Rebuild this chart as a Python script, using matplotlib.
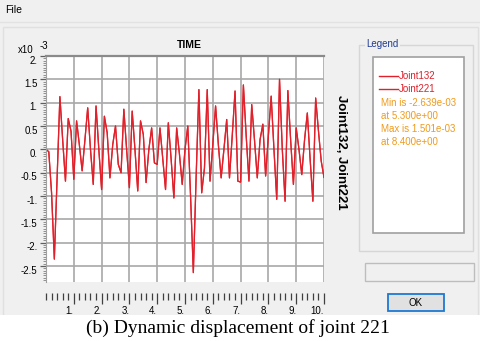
import numpy as np
import matplotlib.pyplot as plt
from matplotlib.patches import Rectangle
from matplotlib.ticker import MultipleLocator, FixedLocator
from matplotlib.transforms import ScaledTranslation

plt.rcParams['font.family'] = ['Liberation Sans', 'DejaVu Sans']

# displacement history (x10^-3), dt = 0.1 s
time = np.round(np.arange(0, 101) * 0.1, 1)
disp = [0.0, -0.05, -0.93, -2.35, -0.6, 1.13, 0.2, -0.68, 0.66, 0.39,
        -0.64, 0.61, 0.1, -0.46, 0.2, 0.89, 0.0, -0.75, 0.93, 0.0,
        -0.86, 0.71, 0.36, -0.61, 0.1, 0.5, -0.32, -0.5, 0.86, 0.0,
        -0.82, 0.82, 0.0, -0.89, 0.61, 0.32, -0.71, 0.0, 0.46, -0.29,
        -0.32, 0.46, -0.2, -0.86, 0.57, -0.2, -1.04, 0.46, -0.1, -0.75,
        0.0, 0.5, -1.0, -2.639, -0.6, 1.28, -0.93, -0.4, 1.28, -0.68,
        0.1, 0.93, 0.1, -0.61, 0.0, 0.64, -0.61, 0.3, 1.25, -0.68,
        -0.7, 1.38, 0.3, -0.68, 0.96, 0.2, -0.61, 0.21, 0.54, -0.57,
        0.3, 1.14, 0.0, -1.07, 1.501, 0.0, -1.11, 1.26, 0.2, -0.75,
        0.46, 0.0, -0.54, 0.2, 0.78, -0.2, -1.11, 1.1, 0.4, -0.25,
        -0.6]
series = ['Joint132', 'Joint221']
xticks = [1, 2, 3, 4, 5, 6, 7, 8, 9, 10]
xtick_labels = ['1.', '2.', '3.', '4.', '5.', '6.', '7.', '8.', '9.', '10.']
yticks = [2.0, 1.5, 1.0, 0.5, 0.0, -0.5, -1.0, -1.5, -2.0, -2.5]
ytick_labels = ['2.', '1.5', '1.', '0.5', '0.', '-0.5', '-1.', '-1.5', '-2.', '-2.5']
info = ['Min is -2.639e-03', 'at 5.300e+00', 'Max is 1.501e-03', 'at 8.400e+00']

W, H = 480, 341
fig = plt.figure(figsize=(W / 100, H / 100), dpi=100)
fig.patch.set_facecolor('#f0f0f0')

# background layer in pixel coordinates (dialog window)
bg = fig.add_axes([0, 0, 1, 1], zorder=0)
bg.set_xlim(0, W)
bg.set_ylim(H, 0)
bg.axis('off')

def box(x0, y0, x1, y1, fc='none', ec='#c8c8c8', lw=1.0):
    bg.add_patch(Rectangle((x0, y0), x1 - x0, y1 - y0, facecolor=fc,
                           edgecolor=ec, linewidth=lw))

bg.text(5, 10, 'File', fontsize=7.5, va='center', ha='left')
bg.plot([0, W], [22, 22], color='#e2e2e2', lw=1)
box(3, 27, 478, 318, fc='#f0f0f0', ec='#e0e0e0')

bg.text(18, 50, 'x10', fontsize=7, va='center')
bg.text(40, 46, '-3', fontsize=7, va='center')
bg.text(189, 45, 'TIME', fontsize=7.5, fontweight='bold', ha='center', va='center')
bg.text(341, 152, ', '.join(series), fontsize=9.5, fontweight='bold',
        rotation=-90, ha='center', va='center')

# legend group
box(359, 45, 473, 251, ec='#d6d6d6')
bg.text(366, 44, 'Legend', fontsize=7, color='#1f3a93', va='center',
        bbox=dict(fc='#f0f0f0', ec='none', pad=1))
box(373, 57, 464, 233, fc='white', ec='#a0a0a0', lw=1.2)
red = '#e0202a'
for i, name in enumerate(series):
    y = 76 + i * 13
    bg.plot([379, 398], [y, y], color=red, lw=1)
    bg.text(399, y, name, fontsize=7, color=red, va='center')
for i, line in enumerate(info):
    bg.text(381, 103 + i * 13, line, fontsize=7, color='#f09a1a', va='center')

# status box and OK button
box(365, 263, 474, 281, fc='#f0f0f0', ec='#bdbdbd')
box(388, 294, 444, 311, fc='#e1e1e1', ec='#1e78d2', lw=1.3)
bg.text(416, 302.5, 'OK', fontsize=7, ha='center', va='center')

# caption strip
bg.add_patch(Rectangle((0, 315), W, H - 315, facecolor='white', edgecolor='none'))
bg.text(238, 328, '(b) Dynamic displacement of joint 221', fontsize=14,
        family=['Liberation Serif', 'DejaVu Serif'], ha='center', va='center')

# plot area
ax = fig.add_axes([46 / W, 1 - 282 / H, 278 / W, 226 / H], zorder=1)
ax.set_facecolor('white')
for name in series:
    ax.plot(time, disp, color=red, lw=0.9, label=name)
ax.set_xlim(0, 10)
ax.set_ylim(-2.84, 2.0)

ax.xaxis.set_major_locator(FixedLocator(xticks))
ax.set_xticklabels(xtick_labels)
ax.xaxis.set_minor_locator(MultipleLocator(0.2))
ax.yaxis.set_major_locator(FixedLocator(yticks))
ax.set_yticklabels(ytick_labels)
ax.yaxis.set_minor_locator(MultipleLocator(0.05))
ax.grid(True, which='major', color='#a8a8a8', lw=1.2)
ax.set_axisbelow(True)

for s in ['right', 'bottom']:
    ax.spines[s].set_visible(False)
ax.spines['top'].set_color('#8a8a8a')
ax.spines['top'].set_linewidth(1.6)
ax.spines['left'].set_color('#a0a0a0')
ax.spines['bottom'].set_position(('outward', 8))

ax.tick_params(axis='x', which='major', direction='out', length=8, width=0.9,
               color='#404040', labelsize=7, pad=1)
ax.tick_params(axis='x', which='minor', direction='out', length=5, width=0.9,
               color='#404040')
for lbl in ax.get_xticklabels():
    lbl.set_horizontalalignment('right')
ax.tick_params(axis='y', which='major', direction='out', length=4, width=0.9,
               color='#606060', labelsize=7, pad=2)
ax.tick_params(axis='y', which='minor', direction='out', length=2, width=0.6,
               color='#808080')
shift = ScaledTranslation(0, -0.035, fig.dpi_scale_trans)
for lbl in ax.get_yticklabels():
    lbl.set_transform(lbl.get_transform() + shift)

fig.savefig('out.png', dpi=100, facecolor=fig.get_facecolor())
